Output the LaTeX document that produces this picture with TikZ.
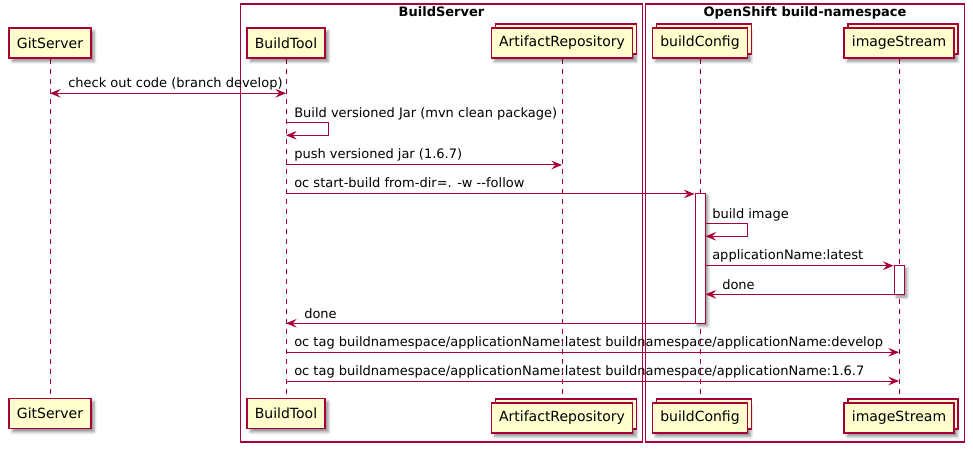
\documentclass[tikz,border=0pt]{standalone}
\usepackage{fontspec}
\setmainfont{DejaVu Sans}
\usetikzlibrary{arrows.meta,positioning,calc,shadows,shadows.blur,backgrounds}
\definecolor{umlred}{HTML}{A80036}
\definecolor{umlfill}{HTML}{FEFECE}
\tikzset{
    %Define standard arrow tip
    >={Stealth[length=8pt,width=6.5pt,inset=3pt]},
    %Define style for participants
    actor/.style={
           rectangle,
           draw=umlred, line width=1.1pt,
           fill=umlfill,
           inner xsep=5.8pt,
           minimum height=22.5pt,
           font=\fontsize{10.5pt}{12pt}\selectfont,
           blur shadow={shadow xshift=2.5pt, shadow yshift=-2.5pt,
                        shadow blur steps=4, shadow opacity=45}},
    collection/.style={
           actor,
           copy shadow={shadow xshift=3pt, shadow yshift=3pt,
                        draw=umlred, fill=umlfill}},
    activation/.style={
           rectangle,
           draw=umlred, line width=0.75pt,
           fill=white,
           inner sep=0pt,
           minimum width=7.5pt,
           blur shadow={shadow xshift=2pt, shadow yshift=-2pt,
                        shadow blur steps=4, shadow opacity=45}},
    % Define line styles
    lifeline/.style={
           draw=umlred,
           line width=0.75pt,
           dash pattern=on 3.75pt off 3.75pt},
    frame/.style={
           draw=umlred,
           line width=1pt},
    msg/.style={
           ->,
           draw=umlred,
           line width=0.75pt},
    both/.style={
           <->,
           draw=umlred,
           line width=0.75pt},
    % Define text styles
    lbl/.style={
           font=\fontsize{9.75pt}{11pt}\selectfont,
           inner sep=0pt,
           anchor=base west},
    boxtitle/.style={
           font=\bfseries\fontsize{9.75pt}{11pt}\selectfont,
           inner sep=0pt,
           anchor=base}
}

\begin{document}
\begin{tikzpicture}[x=0.75pt, y=-0.75pt]
 \useasboundingbox (0,0) rectangle (973,452);
 %rows
    \coordinate (m1) at (0,93.3);
    \coordinate (m2) at (0,122.3);
    \coordinate (m3) at (0,165);
    \coordinate (m4) at (0,194);
    \coordinate (m5) at (0,223.3);
    \coordinate (m6) at (0,265.7);
    \coordinate (m7) at (0,294.3);
    \coordinate (m8) at (0,323.3);
    \coordinate (m9) at (0,352.3);
    \coordinate (m10) at (0,381);
 %nodes
    \node[actor] (gitTop) at (50,43) {GitServer};
    \node[actor] (buildTop) at (286,43) {BuildTool};
    \node[collection] (artTop) at (562,43) {ArtifactRepository};
    \node[collection] (cfgTop) at (700,43) {buildConfig};
    \node[collection] (imgTop) at (899,43) {imageStream};
    \node[actor] (gitBot) at (50,413.5) {GitServer};
    \node[actor] (buildBot) at (286,413.5) {BuildTool};
    \node[collection] (artBot) at (562,418) {ArtifactRepository};
    \node[collection] (cfgBot) at (700,418) {buildConfig};
    \node[collection] (imgBot) at (899,418) {imageStream};
    \node[activation, minimum height=97.5pt] (cfgAct) at (700,258.3) {};
    \node[activation, minimum height=21.5pt] (imgAct) at (899,280) {};
    \node[boxtitle] (buildServer) at (441.5,16.5) {BuildServer};
    \node[boxtitle] (openShift) at (805,16.5) {OpenShift build-namespace};
 %frames and lifelines
  \begin{scope}[on background layer]
    \draw[frame] (240.3,4) rectangle (642.7,442);
    \draw[frame] (645.4,4) rectangle (964.7,442);
    \draw[lifeline] (gitTop) -- (gitBot);
    \draw[lifeline] (buildTop) -- (buildBot);
    \draw[lifeline] (artTop) -- (artBot);
    \draw[lifeline] (cfgTop) -- (cfgBot);
    \draw[lifeline] (imgTop) -- (imgBot);
  \end{scope}
 %edges
    \draw[both] (gitTop |- m1) -- (buildTop |- m1);
    \node[lbl] (l1) at ($(gitTop |- m1)+(18,-6)$) {check out code (branch develop)};
    \draw[msg] (buildTop |- m2) -- ++(42,0) |- ($(buildTop |- m2)+(0,13)$);
    \node[lbl] (l2) at ($(buildTop |- m2)+(8,-5)$) {Build versioned Jar (mvn clean package)};
    \draw[msg] (buildTop |- m3) -- (artTop |- m3);
    \node[lbl] (l3) at ($(buildTop |- m3)+(8,-6)$) {push versioned jar (1.6.7)};
    \draw[msg] (buildTop |- m4) -- (cfgAct.west |- m4);
    \node[lbl] (l4) at ($(buildTop |- m4)+(8,-6)$) {oc start-build from-dir=. -w -{}-follow};
    \draw[msg] (cfgAct.east |- m5) -- ++(42,0) |- ($(cfgAct.east |- m5)+(0,13)$);
    \node[lbl] (l5) at ($(cfgAct.east |- m5)+(6.5,-5)$) {build image};
    \draw[msg] (cfgAct.east |- m6) -- (imgAct.west |- m6);
    \node[lbl] (l6) at ($(cfgAct.east |- m6)+(6.5,-6)$) {applicationName:latest};
    \draw[msg] (imgAct.west |- m7) -- (cfgAct.east |- m7);
    \node[lbl] (l7) at ($(cfgAct.east |- m7)+(16.5,-5)$) {done};
    \draw[msg] (cfgAct.west |- m8) -- (buildTop |- m8);
    \node[lbl] (l8) at ($(buildTop |- m8)+(18,-5)$) {done};
    \draw[msg] (buildTop |- m9) -- (imgTop |- m9);
    \node[lbl] (l9) at ($(buildTop |- m9)+(8,-6)$) {oc tag buildnamespace/applicationName:latest buildnamespace/applicationName:develop};
    \draw[msg] (buildTop |- m10) -- (imgTop |- m10);
    \node[lbl] (l10) at ($(buildTop |- m10)+(8,-6)$) {oc tag buildnamespace/applicationName:latest buildnamespace/applicationName:1.6.7};
  \end{tikzpicture}
\end{document}
